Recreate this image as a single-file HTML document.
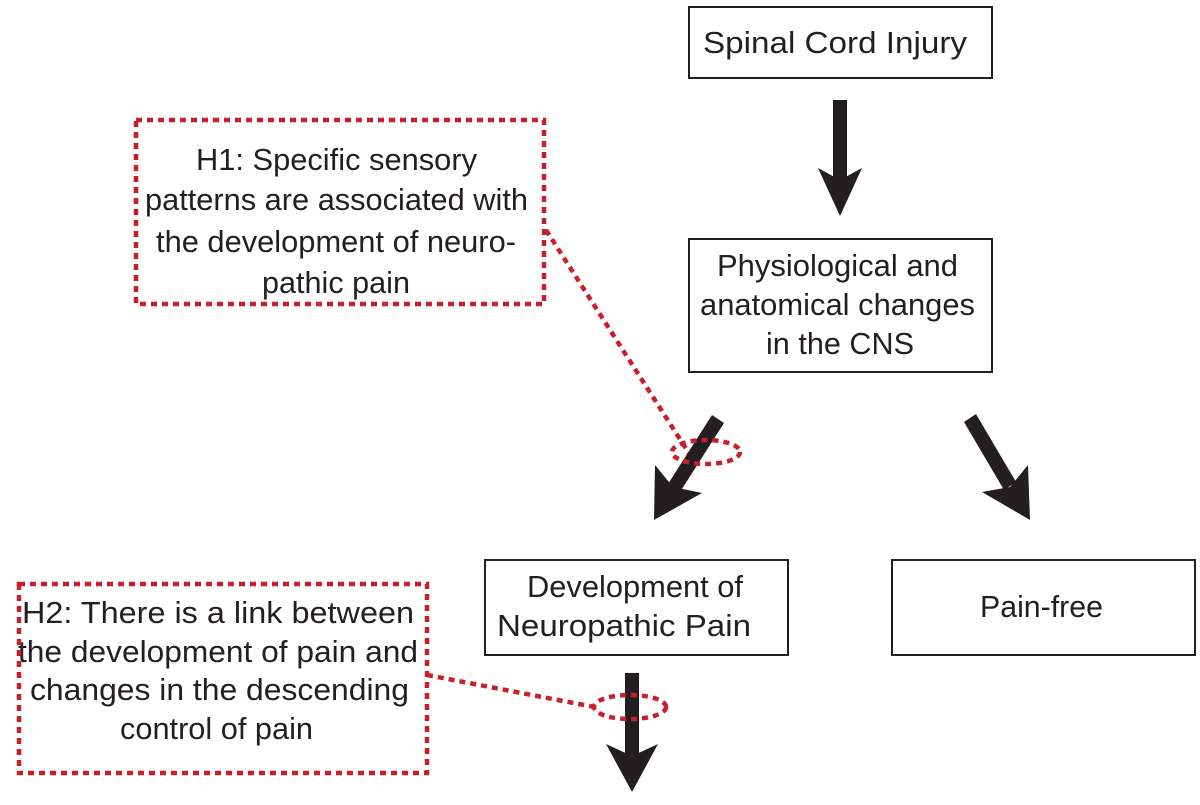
<!DOCTYPE html>
<html><head><style>body{margin:0;background:#fff}</style></head><body>
<svg width="1200" height="800" xmlns="http://www.w3.org/2000/svg" font-family="'Liberation Sans', Arial, sans-serif" font-size="31" fill="#231f20">
<g fill="#fff" stroke="#231f20" stroke-width="2">
<rect x="689" y="7" width="303" height="71"/>
<rect x="689" y="239" width="303" height="133"/>
<rect x="485" y="560" width="303" height="95"/>
<rect x="892" y="560" width="303" height="95"/>
</g>
<g fill="#231f20">
<text x="703" y="53" textLength="264" lengthAdjust="spacingAndGlyphs">Spinal Cord Injury</text>
<text x="717" y="276" textLength="241" lengthAdjust="spacingAndGlyphs">Physiological and</text>
<text x="700" y="315" textLength="275" lengthAdjust="spacingAndGlyphs">anatomical changes</text>
<text x="766" y="354" textLength="148" lengthAdjust="spacingAndGlyphs">in the CNS</text>
<text x="527" y="597" textLength="216" lengthAdjust="spacingAndGlyphs">Development of</text>
<text x="497" y="636" textLength="254" lengthAdjust="spacingAndGlyphs">Neuropathic Pain</text>
<text x="980" y="617" textLength="123" lengthAdjust="spacingAndGlyphs">Pain-free</text>
<text x="196" y="170" textLength="281" lengthAdjust="spacingAndGlyphs">H1: Specific sensory</text>
<text x="145" y="210" textLength="383" lengthAdjust="spacingAndGlyphs">patterns are associated with</text>
<text x="156" y="252" textLength="360" lengthAdjust="spacingAndGlyphs">the development of neuro-</text>
<text x="262" y="293" textLength="148" lengthAdjust="spacingAndGlyphs">pathic pain</text>
<text x="22" y="623" textLength="392" lengthAdjust="spacingAndGlyphs">H2: There is a link between</text>
<text x="18" y="662" textLength="400" lengthAdjust="spacingAndGlyphs">the development of pain and</text>
<text x="30" y="700" textLength="379" lengthAdjust="spacingAndGlyphs">changes in the descending</text>
<text x="120" y="739" textLength="193" lengthAdjust="spacingAndGlyphs">control of pain</text>
</g>
<g fill="none" stroke="#c8202a" stroke-width="4.5" stroke-dasharray="6,5">
<rect x="136" y="120" width="408" height="184"/>
<rect x="19" y="584" width="408" height="189"/>
<line x1="546" y1="230" x2="692" y2="458"/>
<line x1="427" y1="675" x2="600" y2="708"/>
</g>
<g fill="#231f20">
<rect x="833" y="100" width="14" height="80"/>
<polygon points="818,168 840,180 862,168 840,216"/>
<polygon points="712,415 724,423 680,492 668,484"/>
<polygon points="655,465 673,487 702,493 654,520"/>
<polygon points="964,422 976,414 1016,482 1004,490"/>
<polygon points="1028,465 1010,487 982,492 1030,520"/>
<rect x="625" y="673" width="14" height="85"/>
<polygon points="606,744 632,756 658,744 632,792"/>
</g>
<g fill="none" stroke="#c8202a" stroke-width="4.5" stroke-dasharray="6,5">
<ellipse cx="706" cy="452" rx="34" ry="12"/>
<ellipse cx="630" cy="707" rx="36" ry="12"/>
</g>
</svg>
</body></html>
